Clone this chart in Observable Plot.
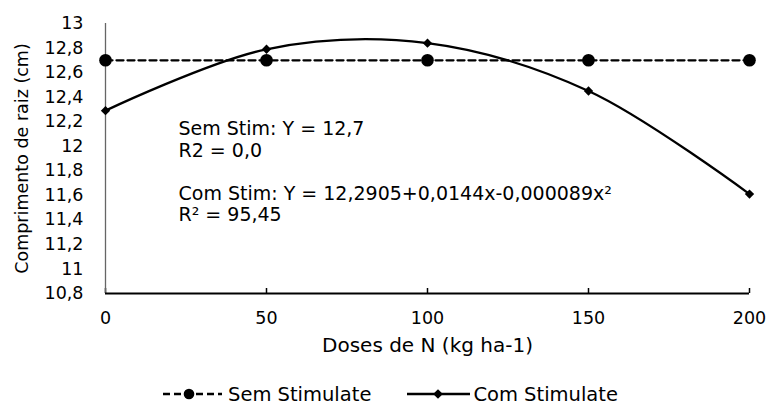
<!DOCTYPE html>
<html>
<head>
<meta charset="utf-8">
<script src="https://cdn.jsdelivr.net/npm/d3@7"></script>
<script src="https://cdn.jsdelivr.net/npm/@observablehq/plot@0.6"></script>
<style>
  html, body { margin: 0; padding: 0; background: #fff; }
  #wrap { position: relative; width: 770px; height: 405px; overflow: hidden; }
  #legend { position: absolute; top: 383px; left: 162px; height: 22px; display: flex; align-items: center;
            font-family: "DejaVu Sans", sans-serif; font-size: 19.5px; color: #000; white-space: nowrap; }
  #legend svg { display: block; }
</style>
</head>
<body>
<div id="wrap"><div id="chart"></div><div id="legend"></div></div>
<script>
// ---- data ----
const doses = [0, 50, 100, 150, 200];
const semStim = [12.7, 12.7, 12.7, 12.7, 12.7];
const comStim = [12.29, 12.79, 12.84, 12.45, 11.61];
const seriesNames = ["Sem Stimulate", "Com Stimulate"];
const xTicks = [0, 50, 100, 150, 200];
const yTicks = [10.8, 11, 11.2, 11.4, 11.6, 11.8, 12, 12.2, 12.4, 12.6, 12.8, 13];
const yTickLabels = ["10,8", "11", "11,2", "11,4", "11,6", "11,8", "12", "12,2", "12,4", "12,6", "12,8", "13"];
const xTitle = "Doses de N (kg ha-1)";
const yTitle = "Comprimento de raiz (cm)";
const annotationLines = ["Sem Stim: Y = 12,7", "R2 = 0,0", "Com Stim: Y = 12,2905+0,0144x-0,000089x²", "R² = 95,45"];

// ---- table ----
const rows = doses.map((x, i) => ({x, sem: semStim[i], com: comStim[i]}));
const yLabelMap = new Map(yTicks.map((t, i) => [t, yTickLabels[i]]));
const annRows = annotationLines.map((t, i) => ({t, i}));
const annOffsets = [98, 119.5, 162.5, 184];

const chart = Plot.plot({
  width: 770,
  height: 370,
  marginLeft: 105,
  marginRight: 21,
  marginTop: 23,
  marginBottom: 77,
  style: {fontFamily: "DejaVu Sans, sans-serif", fontSize: "17.5px", color: "#000", background: "#fff", overflow: "visible"},
  x: {domain: [0, 200]},
  y: {domain: [10.8, 13]},
  marks: [
    Plot.axisY({ticks: yTicks, tickSize: 0, tickPadding: 22, tickFormat: d => yLabelMap.get(d), label: null}),
    Plot.axisX({ticks: xTicks, tickSize: 0, tickPadding: 18, tickFormat: d => String(d), label: null}),
    Plot.axisX({ticks: xTicks, tickSize: 5, dy: -5, tickFormat: () => "", label: null, strokeWidth: 1.5}),
    Plot.ruleX([0], {y1: 10.8, y2: 13, stroke: "#666", strokeWidth: 1.3}),
    Plot.ruleY([10.8], {stroke: "#000", strokeWidth: 2}),
    Plot.line(rows, {x: "x", y: "sem", stroke: "#000", strokeWidth: 2.3, strokeDasharray: "7,4"}),
    Plot.dot(rows, {x: "x", y: "sem", r: 6.3, fill: "#000", stroke: "none"}),
    Plot.line(rows, {x: "x", y: "com", curve: "catmull-rom", stroke: "#000", strokeWidth: 2.3}),
    Plot.dot(rows, {x: "x", y: "com", symbol: "diamond2", r: 4.2, fill: "#000", stroke: "none"}),
    ...annRows.map(a => Plot.text([a.t], {text: d => d, frameAnchor: "top-left", dx: 73, dy: annOffsets[a.i], textAnchor: "start", lineAnchor: "top", fontSize: 19, fill: "#000"})),
    Plot.text([xTitle], {text: d => d, frameAnchor: "bottom", dy: 52.5, lineAnchor: "middle", textAnchor: "middle", fontSize: 20, fill: "#000"}),
    Plot.text([yTitle], {text: d => d, frameAnchor: "left", dx: -83, rotate: -90, lineAnchor: "middle", textAnchor: "middle", fontSize: 17.5, fill: "#000"})
  ]
});
document.getElementById("chart").appendChild(chart);

// ---- legend ----
const legend = d3.select("#legend");
// Sem Stimulate
const s1 = legend.append("svg").attr("width", 61).attr("height", 20);
s1.append("line").attr("x1", 1).attr("x2", 60).attr("y1", 10).attr("y2", 10)
  .attr("stroke", "#000").attr("stroke-width", 2.3).attr("stroke-dasharray", "7,4");
s1.append("circle").attr("cx", 27).attr("cy", 10).attr("r", 5.3).attr("fill", "#000");
legend.append("span").style("margin-left", "5px").text(seriesNames[0]);
// Com Stimulate
const s2 = legend.append("svg").attr("width", 63).attr("height", 20).style("margin-left", "36px");
s2.append("line").attr("x1", 0).attr("x2", 63).attr("y1", 10).attr("y2", 10)
  .attr("stroke", "#000").attr("stroke-width", 2.3);
s2.append("path").attr("d", d3.symbol(d3.symbolDiamond2, 60)()).attr("transform", "translate(31,10)").attr("fill", "#000");
legend.append("span").style("margin-left", "3px").text(seriesNames[1]);
</script>
</body>
</html>
